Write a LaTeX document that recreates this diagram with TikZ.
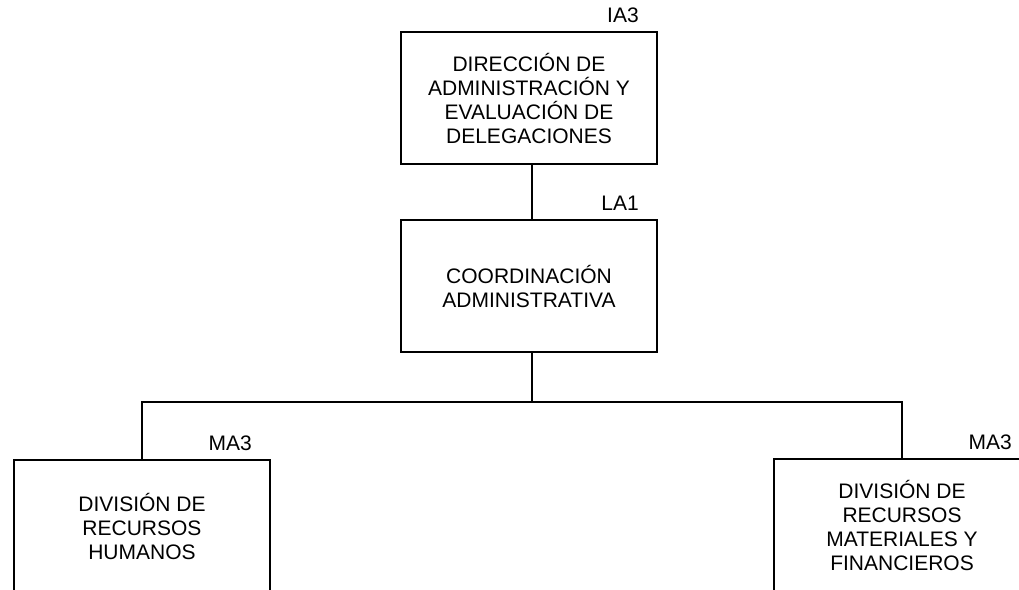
\documentclass[tikz,border=0pt]{standalone}
\usepackage{fontspec}
\setmainfont{Liberation Sans}
\tikzset{
    unit/.style = {draw, line width = 2.5pt, minimum width = 256pt, minimum height = 132pt, align = center, font = \fontsize{21}{24}\selectfont},
    level/.style = {anchor = base east, xshift = -16pt, yshift = 8pt, font = \fontsize{21}{24}\selectfont},
}
\begin{document}
\begin{tikzpicture}[x = 1pt, y = -1pt]
            \useasboundingbox (0, 0) rectangle (1019, 589);
            \path
                (529, 98) node[unit] (dir) {DIRECCIÓN DE\\ADMINISTRACIÓN Y\\EVALUACIÓN DE\\DELEGACIONES}
                (529, 286) node[unit] (coord) {COORDINACIÓN\\ADMINISTRATIVA}
                (142, 526) node[unit] (rh) {DIVISIÓN DE\\RECURSOS\\HUMANOS}
                (902, 525) node[unit] (rmf) {DIVISIÓN DE\\RECURSOS\\MATERIALES Y\\FINANCIEROS}
            ;
            \path
                (dir.north east) node[level] (dir-lvl) {IA3}
                (coord.north east) node[level] (coord-lvl) {LA1}
                (rh.north east) node[level] (rh-lvl) {MA3}
                (rmf.north east) node[level] (rmf-lvl) {MA3}
            ;
            \coordinate (bus) at (0, 402);
            \draw[line width = 2.5pt]
                ([xshift = 3pt]dir.south) -- ([xshift = 3pt]coord.north)
                ([xshift = 3pt]coord.south) -- ([xshift = 3pt]coord.south |- bus)
                (rh.north) |- (bus -| rmf.north) -- (rmf.north)
            ;
        \end{tikzpicture}
\end{document}
